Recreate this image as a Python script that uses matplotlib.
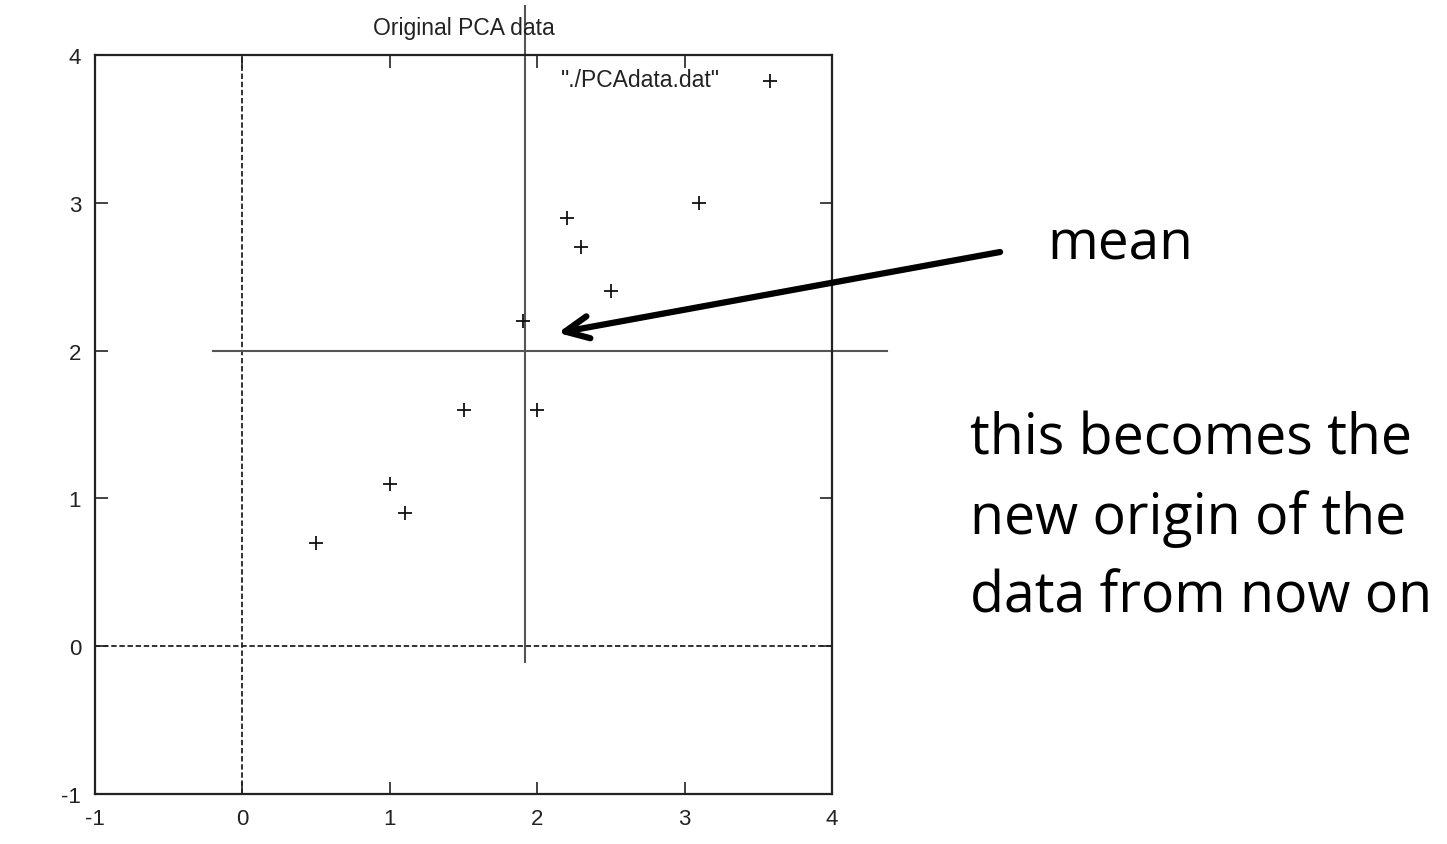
import matplotlib
matplotlib.use("Agg")
import matplotlib.pyplot as plt

# PCA sample data
x_vals = [2.5, 0.5, 2.2, 1.9, 3.1, 2.3, 2.0, 1.0, 1.5, 1.1]
y_vals = [2.4, 0.7, 2.9, 2.2, 3.0, 2.7, 1.6, 1.1, 1.6, 0.9]
ticks = [-1, 0, 1, 2, 3, 4]
mean_x = 1.92
mean_y = 2.0

plt.rcParams['font.family'] = ['Liberation Sans', 'DejaVu Sans']
plt.rcParams['axes.unicode_minus'] = False

fig = plt.figure(figsize=(14.47, 8.45), dpi=100)
ax = fig.add_axes([0.0657, 0.0592, 0.5093, 0.8745])
ax.set_xlim(-1, 4)
ax.set_ylim(-1, 4)
ax.set_xticks(ticks)
ax.set_yticks(ticks)
ax.tick_params(direction='in', top=True, right=True, length=9, width=1.2,
               labelsize=16, colors='#222222')
ax.tick_params(axis='x', pad=10)
ax.tick_params(axis='y', pad=10)
for s in ax.spines.values():
    s.set_linewidth(1.6)
    s.set_color('#222222')

# zero axes (dashed)
ax.axvline(0, color='#222222', lw=1.3, ls=(0, (3, 1.5)))
ax.axhline(0, color='#222222', lw=1.3, ls=(0, (3, 1.5)))

# mean cross lines, extending beyond the frame
ax.plot([mean_x, mean_x], [-0.11, 4.33], color='#555555', lw=1.5, clip_on=False)
ax.plot([-0.2, 4.37], [mean_y, mean_y], color='#555555', lw=1.5, clip_on=False)

# data points
ax.plot(x_vals, y_vals, ls='none', marker='+', ms=10, mew=1.3, color='#111111')

# key
ax.text(0.848, 0.967, '"./PCAdata.dat"', transform=ax.transAxes, ha='right',
        va='center', fontsize=16.5, color='#222222')
ax.plot([0.916], [0.965], transform=ax.transAxes, marker='+', ms=10, mew=1.3,
        color='#111111', ls='none')

ax.set_title('Original PCA data', fontsize=16.5, pad=15, color='#222222')

# arrow pointing to the mean
ax.annotate('', xy=(2.14, 2.12), xytext=(5.14, 2.667),
            arrowprops=dict(arrowstyle='->,head_length=0.85,head_width=0.4',
                            mutation_scale=20, lw=4.5, color='black',
                            shrinkA=0, shrinkB=0),
            annotation_clip=False)

fig.text(1047 / 1447, 1 - 245 / 845, 'mean', fontsize=39.5, family='Open Sans',
         ha='left', va='center')
fig.text(970 / 1447, 1 - 519 / 845, 'this becomes the\nnew origin of the\ndata from now on',
         fontsize=40, family='Open Sans', ha='left', va='center', linespacing=1.5)

fig.savefig('out.png', dpi=100, facecolor='white')
